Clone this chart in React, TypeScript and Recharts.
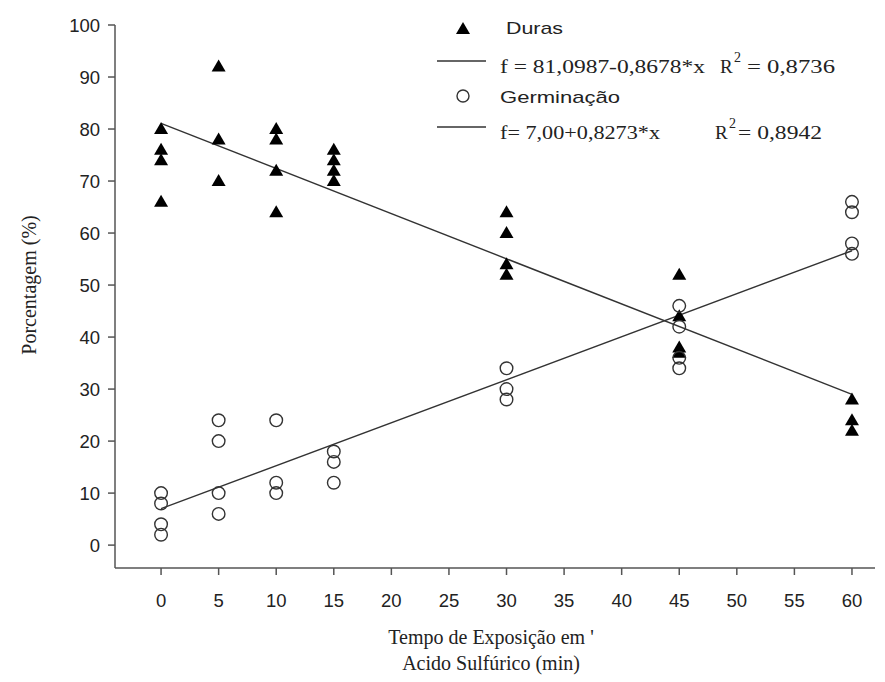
import { ScatterChart, Scatter, XAxis, YAxis } from 'recharts';

const durasX = [0, 0, 0, 0, 5, 5, 5, 10, 10, 10, 10, 15, 15, 15, 15, 30, 30, 30, 30, 45, 45, 45, 45, 60, 60, 60];
const durasY = [80, 76, 74, 66, 92, 78, 70, 80, 78, 72, 64, 76, 74, 72, 70, 64, 60, 54, 52, 52, 44, 38, 37, 28, 24, 22];

const germX = [0, 0, 0, 0, 5, 5, 5, 5, 10, 10, 10, 15, 15, 15, 30, 30, 30, 45, 45, 45, 45, 60, 60, 60, 60];
const germY = [10, 8, 4, 2, 24, 20, 10, 6, 24, 12, 10, 18, 16, 12, 34, 30, 28, 46, 42, 36, 34, 66, 64, 58, 56];

// regression endpoints from the legend equations
const fitX = [0, 60];
const durasFit = [81.1, 29.0];
const germFit = [7.0, 56.6];

const xTicks = [0, 5, 10, 15, 20, 25, 30, 35, 40, 45, 50, 55, 60];
const yTicks = [0, 10, 20, 30, 40, 50, 60, 70, 80, 90, 100];

const durasData = durasX.map((x, i) => ({ x, y: durasY[i] }));
const germData = germX.map((x, i) => ({ x, y: germY[i] }));
const durasLine = fitX.map((x, i) => ({ x, y: durasFit[i] }));
const germLine = fitX.map((x, i) => ({ x, y: germFit[i] }));

const sans = '"Liberation Sans", Arial, sans-serif';
const serif = '"Liberation Serif", "Times New Roman", serif';

const Triangle = (props: any) => {
    const { cx, cy } = props;
    return <polygon points={`${cx},${cy - 7} ${cx - 7},${cy + 5} ${cx + 7},${cy + 5}`} fill="#000" />;
};

const Circle = (props: any) => {
    const { cx, cy } = props;
    return <circle cx={cx} cy={cy} r={6.3} fill="none" stroke="#333" strokeWidth={1.4} />;
};

const NoDot = () => null;

export default function App() {
    const tick = { fontFamily: sans, fontSize: 18.5, fill: '#222' };
    const adj = 'spacingAndGlyphs';
    return (
        <div style={{ position: 'absolute', left: 0, top: 0, width: 885, height: 682, background: '#fff' }}>
            <ScatterChart width={885} height={682} margin={{ top: 25, right: 10, bottom: 74, left: 55 }}>
                <XAxis
                    type="number"
                    dataKey="x"
                    domain={[-4, 62]}
                    ticks={xTicks}
                    allowDataOverflow
                    height={40}
                    tickSize={7}
                    tickMargin={19}
                    tick={tick}
                    stroke="#555"
                    strokeWidth={1.5}
                />
                <YAxis
                    type="number"
                    dataKey="y"
                    domain={[-4.4, 100]}
                    ticks={yTicks}
                    allowDataOverflow
                    width={60}
                    tickSize={7}
                    tickMargin={8}
                    tick={tick}
                    stroke="#555"
                    strokeWidth={1.5}
                />
                <Scatter data={durasLine} line={{ stroke: '#333', strokeWidth: 1.4 }} shape={NoDot} isAnimationActive={false} />
                <Scatter data={germLine} line={{ stroke: '#333', strokeWidth: 1.4 }} shape={NoDot} isAnimationActive={false} />
                <Scatter data={durasData} shape={Triangle} isAnimationActive={false} />
                <Scatter data={germData} shape={Circle} isAnimationActive={false} />
            </ScatterChart>
            <svg width={885} height={682} style={{ position: 'absolute', left: 0, top: 0, pointerEvents: 'none' }}>
                <polygon points="463,22 456,34 470,34" fill="#000" />
                <text x={506} y={34} fontFamily={sans} fontSize={17} fill="#222" textLength={57} lengthAdjust={adj}>Duras</text>
                <line x1={437} y1={61} x2={486} y2={61} stroke="#333" strokeWidth={1.4} />
                <text x={500} y={73} fontFamily={serif} fontSize={19} fill="#222" textLength={205} lengthAdjust={adj}>f = 81,0987-0,8678*x</text>
                <text x={720} y={73} fontFamily={serif} fontSize={19} fill="#222">R</text>
                <text x={734} y={62} fontFamily={serif} fontSize={14} fill="#222">2</text>
                <text x={747} y={73} fontFamily={serif} fontSize={19} fill="#222" textLength={88} lengthAdjust={adj}>= 0,8736</text>
                <circle cx={463} cy={96} r={6} fill="none" stroke="#333" strokeWidth={1.4} />
                <text x={500} y={103} fontFamily={sans} fontSize={17} fill="#222" textLength={120} lengthAdjust={adj}>Germinação</text>
                <line x1={437} y1={127} x2={486} y2={127} stroke="#333" strokeWidth={1.4} />
                <text x={500} y={139} fontFamily={serif} fontSize={19} fill="#222" textLength={160} lengthAdjust={adj}>f= 7,00+0,8273*x</text>
                <text x={715} y={139} fontFamily={serif} fontSize={19} fill="#222">R</text>
                <text x={729} y={128} fontFamily={serif} fontSize={14} fill="#222">2</text>
                <text x={738} y={139} fontFamily={serif} fontSize={19} fill="#222" textLength={84} lengthAdjust={adj}>= 0,8942</text>
                <text
                    x={0}
                    y={0}
                    transform="translate(36,285) rotate(-90)"
                    textAnchor="middle"
                    fontFamily={serif}
                    fontSize={20}
                    fill="#222"
                >
                    Porcentagem (%)
                </text>
                <text x={491} y={644} textAnchor="middle" fontFamily={serif} fontSize={20} fill="#222">
                    Tempo de Exposição em '
                </text>
                <text x={491} y={670} textAnchor="middle" fontFamily={serif} fontSize={20} fill="#222">
                    Acido Sulfúrico (min)
                </text>
            </svg>
        </div>
    );
}
